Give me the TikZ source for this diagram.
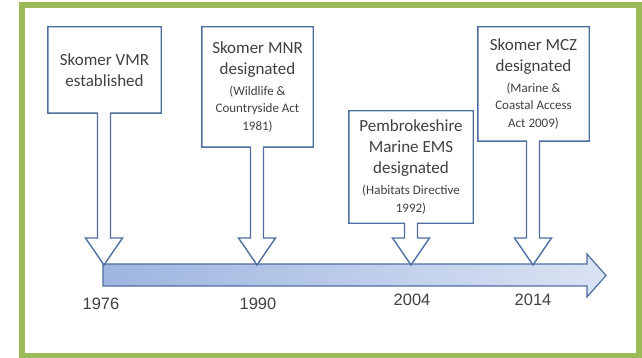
\documentclass[tikz,border=0pt]{standalone}
\usepackage{fontspec}
\setmainfont{Carlito}
\newfontfamily\yearfont{Liberation Sans}
\usetikzlibrary{calc}
\definecolor{framegreen}{RGB}{155,187,89}
\definecolor{lineblue}{RGB}{79,110,160}
\definecolor{bardark}{RGB}{158,181,224}
\definecolor{barlight}{RGB}{218,227,243}
\definecolor{textgray}{RGB}{64,64,64}
\def\bigtxt{\fontsize{17}{21}\selectfont}
\def\smalltxt{\fontsize{13}{17.5}\selectfont}
\def\callout(#1)(#2){\draw[calloutline] (#1.north west) -- (#1.north east) -- (#1.south east) -- ($(#1.south -| #2)+(6.5,0)$) -- ($(#2)+(6.5,-27)$) -- ($(#2)+(18.5,-27)$) -- (#2) -- ($(#2)+(-18.5,-27)$) -- ($(#2)+(-6.5,-27)$) -- ($(#1.south -| #2)+(-6.5,0)$) -- (#1.south west) -- cycle;}
\tikzset{
  calloutline/.style={draw=lineblue, line width=1.4pt, fill=white},
  boxtext/.style={inner sep=0pt, align=center, text=textgray, font=\bigtxt},
  yearlabel/.style={text=textgray, font=\yearfont\fontsize{16.5}{18}\selectfont}
}

\begin{document}
\begin{tikzpicture}[x=1pt, y=-1pt]
			%%%%% START %%%%%
			\useasboundingbox (0,0) rectangle (642,358);
			\draw[framegreen, line width=6pt] (22,5) rectangle (639,355.5);
			
			\draw[lineblue, line width=1.2pt, left color=bardark, right color=barlight] (103,264) -- (587,264) -- (587,254) -- (606,275.5) -- (587,297) -- (587,286) -- (103,286) -- cycle;
			
			\coordinate (t1) at (104,265);
			\coordinate (t2) at (257,265);
			\coordinate (t3) at (411,265);
			\coordinate (t4) at (533,265);
			
			\node[boxtext, minimum width=113, minimum height=86] (vmr) at (104.5,70) {};
			\node[boxtext, minimum width=111, minimum height=120] (mnr) at (257.5,87) {};
			\node[boxtext, minimum width=124, minimum height=112] (ems) at (411,167) {};
			\node[boxtext, minimum width=111, minimum height=114] (mcz) at (533.5,84) {};
			
			\callout(vmr)(t1)
			\callout(mnr)(t2)
			\callout(ems)(t3)
			\callout(mcz)(t4)
			
			\node[boxtext] (vmrtext) at (vmr) {Skomer VMR\\established};
			\node[boxtext] (mnrtext) at (mnr) {Skomer MNR\\designated\\\smalltxt (Wildlife \&\\[-3.5pt]\smalltxt Countryside Act\\[-3.5pt]\smalltxt 1981)};
			\node[boxtext] (emstext) at (ems) {Pembrokeshire\\Marine EMS\\designated\\\smalltxt (Habitats Directive\\[-3.5pt]\smalltxt 1992)};
			\node[boxtext] (mcztext) at (mcz) {Skomer MCZ\\designated\\\smalltxt (Marine \&\\[-3.5pt]\smalltxt Coastal Access\\[-3.5pt]\smalltxt Act 2009)};
			
			\node[yearlabel] (y1976) at (101,304) {1976};
			\node[yearlabel] (y1990) at (258,304) {1990};
			\node[yearlabel] (y2004) at (412,300) {2004};
			\node[yearlabel] (y2014) at (533,300) {2014};
			%%%%% END %%%%%
\end{tikzpicture}
\end{document}
